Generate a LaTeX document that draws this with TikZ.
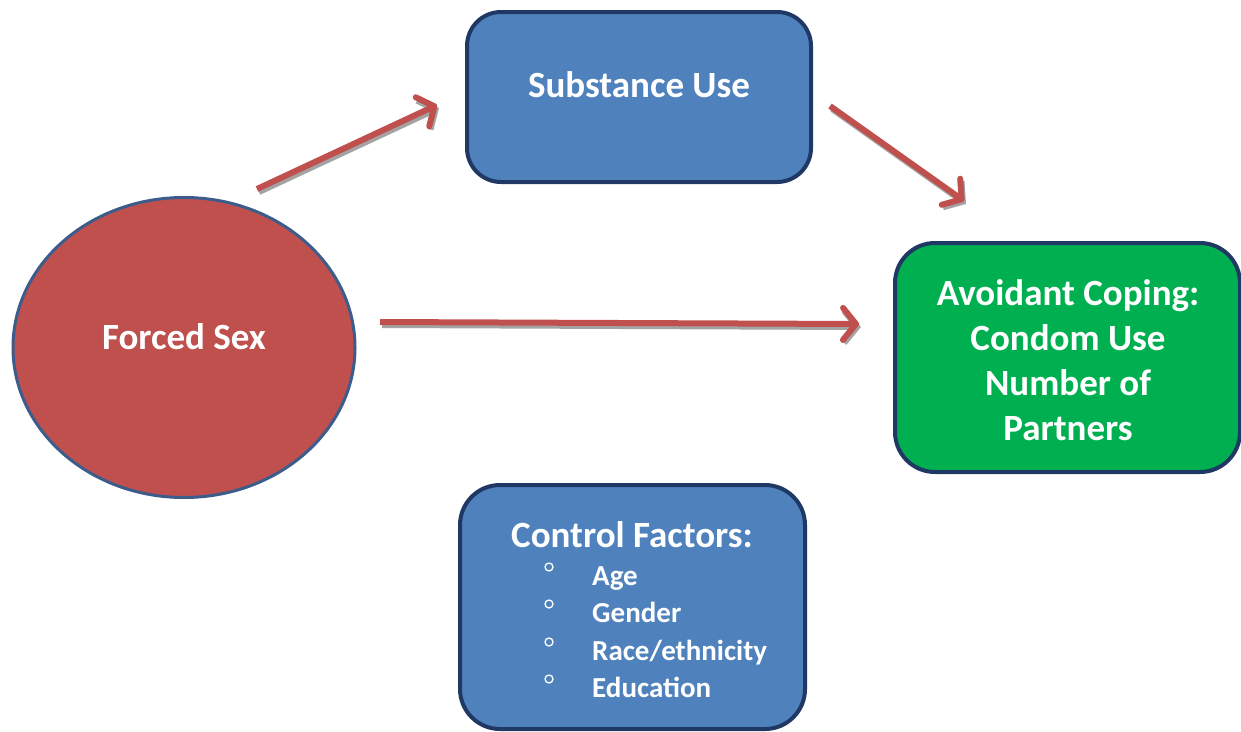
\documentclass[tikz,border=0pt]{standalone}
\usepackage{fontspec}
\setmainfont{Carlito}
\newfontfamily\dejavu{DejaVu Sans}
\usetikzlibrary{arrows.meta,shapes.geometric}
\definecolor{boxblue}{HTML}{4F81BD}
\definecolor{navy}{HTML}{1F3864}
\definecolor{arrred}{HTML}{C0504D}
\definecolor{ellborder}{HTML}{3C5D8C}
\definecolor{boxgreen}{HTML}{00B050}
\definecolor{shadowgray}{HTML}{A3A3A3}
\tikzset{
  bigtext/.style={font=\fontsize{37}{45}\selectfont\bfseries, text=white, align=center},
  itemtext/.style={font=\fontsize{29}{35}\selectfont\bfseries, text=white, anchor=base west, inner sep=0},
  bulletmark/.style={circle, draw=white, line width=1.3, minimum size=8, inner sep=0},
  roundbox/.style={draw=navy, line width=4, rounded corners=34, inner sep=0},
  arrowline/.style={line width=6, draw=arrred, -{Straight Barb[length=13, width=32, line cap=round, line join=round]}},
  arrowshadow/.style={line width=6, draw=shadowgray, -{Straight Barb[length=13, width=32]}},
}
\begin{document}
\begin{tikzpicture}[x=1pt,y=-1pt]
\useasboundingbox (0,0) rectangle (1241,731);
% nodes
\node[roundbox, fill=boxblue, minimum width=344, minimum height=170] (subst) at (639,97) {};
\node[bigtext] (substtext) at (639,85) {Substance Use};
\node[ellipse, draw=ellborder, line width=3, fill=arrred, minimum width=342, minimum height=300, inner sep=0] (forced) at (184,347.5) {};
\node[bigtext] (forcedtext) at (184,337) {Forced Sex};
\node[roundbox, fill=boxgreen, rounded corners=40, minimum width=345, minimum height=229] (avoid) at (1067.5,357.5) {};
\node[bigtext] (avoidtext) at (1068,360) {Avoidant Coping:\\Condom Use\\Number of\\Partners};
\node[roundbox, fill=boxblue, rounded corners=40, minimum width=345, minimum height=244] (control) at (632.5,607) {};
\node[bigtext] (controltext) at (632,535) {Control Factors:};
\node[itemtext] (age) at (592,585) {Age};
\node[itemtext] (gender) at (592,622) {Gender};
\node[itemtext] (race) at (592,660) {Race/ethnicity};
\node[itemtext] (edu) at (592,697) {Education};
\node[bulletmark] (b1) at (549,567) {};
\node[bulletmark] (b2) at (549,604) {};
\node[bulletmark] (b3) at (549,642) {};
\node[bulletmark] (b4) at (549,679) {};
% arrow end coordinates
\coordinate (a1s) at (257,189);
\coordinate (a1e) at (437,105);
\coordinate (a2s) at (830,106);
\coordinate (a2e) at (964,201);
\coordinate (a3s) at (380,322);
\coordinate (a3e) at (859,324);
% shadows
\draw[arrowshadow] ([shift={(2,3)}]a1s) -- ([shift={(2,3)}]a1e);
\draw[arrowshadow] ([shift={(2,3)}]a2s) -- ([shift={(2,3)}]a2e);
\draw[arrowshadow] ([shift={(2,3)}]a3s) -- ([shift={(2,3)}]a3e);
% arrows
\draw[arrowline] (a1s) -- (a1e);
\draw[arrowline] (a2s) -- (a2e);
\draw[arrowline] (a3s) -- (a3e);
\end{tikzpicture}
\end{document}
